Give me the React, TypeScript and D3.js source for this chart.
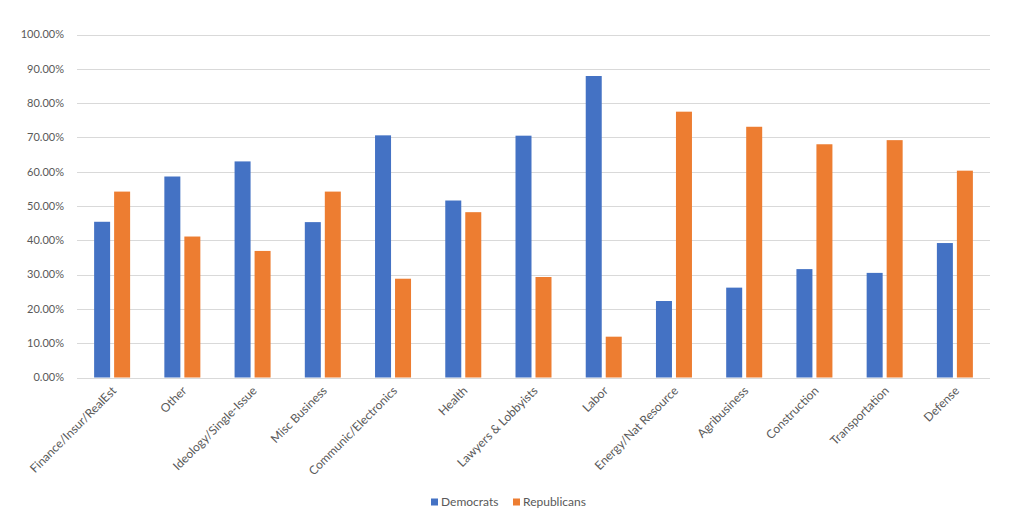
import { useRef, useEffect } from 'react'
import * as d3 from 'd3'

const categories = [
  'Finance/Insur/RealEst',
  'Other',
  'Ideology/Single-Issue',
  'Misc Business',
  'Communic/Electronics',
  'Health',
  'Lawyers & Lobbyists',
  'Labor',
  'Energy/Nat Resource',
  'Agribusiness',
  'Construction',
  'Transportation',
  'Defense',
]

const democrats = [45.4, 58.6, 63.0, 45.3, 70.6, 51.6, 70.5, 87.9, 22.3, 26.2, 31.6, 30.5, 39.2]
const republicans = [54.2, 41.1, 36.9, 54.2, 28.8, 48.2, 29.3, 11.9, 77.5, 73.1, 68.0, 69.2, 60.3]

const seriesNames = ['Democrats', 'Republicans']
const seriesColors = ['#4472C4', '#ED7D31']
const yTicks = [0, 10, 20, 30, 40, 50, 60, 70, 80, 90, 100]

const App: React.FC = () => {
  const chartRef = useRef<SVGSVGElement>(null)

  useEffect(() => {
    if (!chartRef.current) return

    const width = 1012
    const height = 524
    const left = 77
    const right = 990
    const top = 34.5
    const bottom = 377.5
    const font = 'Lato, "Open Sans", sans-serif'

    const svg = d3.select(chartRef.current)
    svg.selectAll('*').remove()
    svg.attr('width', width).attr('height', height)

    const x = d3.scaleBand<string>().domain(categories).range([left, right])
    const y = d3.scaleLinear().domain([0, 100]).range([bottom, top])
    const sub = d3.scaleBand<string>().domain(seriesNames).range([-18, 18]).paddingInner(0.2)

    // gridlines
    svg
      .append('g')
      .selectAll('line')
      .data(yTicks)
      .enter()
      .append('line')
      .attr('x1', left)
      .attr('x2', right)
      .attr('y1', (d) => Math.round(y(d)) + 0.5)
      .attr('y2', (d) => Math.round(y(d)) + 0.5)
      .attr('stroke', '#d9d9d9')
      .attr('stroke-width', 1)

    // y labels
    svg
      .append('g')
      .selectAll('text')
      .data(yTicks)
      .enter()
      .append('text')
      .attr('x', 64)
      .attr('y', (d) => y(d))
      .attr('dy', '0.35em')
      .attr('text-anchor', 'end')
      .attr('font-family', font)
      .attr('font-size', 11)
      .attr('fill', '#595959')
      .text((d) => d.toFixed(2) + '%')

    const series = [democrats, republicans]
    series.forEach((vals, si) => {
      svg
        .append('g')
        .selectAll('rect')
        .data(vals)
        .enter()
        .append('rect')
        .attr('x', (_, i) => x(categories[i])! + x.bandwidth() / 2 + sub(seriesNames[si])!)
        .attr('width', sub.bandwidth())
        .attr('y', (d) => y(d))
        .attr('height', (d) => y(0) - y(d))
        .attr('fill', seriesColors[si])
    })

    // x labels
    svg
      .append('g')
      .selectAll('text')
      .data(categories)
      .enter()
      .append('text')
      .attr('transform', (d) => `translate(${x(d)! + x.bandwidth() / 2 + 5},${bottom + 14}) rotate(-45)`)
      .attr('text-anchor', 'end')
      .attr('font-family', font)
      .attr('font-size', 12)
      .attr('fill', '#595959')
      .text((d) => d)

    // legend
    const legend = svg.append('g').attr('transform', 'translate(431,502)')
    const lx = [0, 82]
    seriesNames.forEach((name, i) => {
      legend
        .append('rect')
        .attr('x', lx[i])
        .attr('y', -3.5)
        .attr('width', 7)
        .attr('height', 7)
        .attr('fill', seriesColors[i])
      legend
        .append('text')
        .attr('x', lx[i] + 10)
        .attr('y', 0)
        .attr('dy', '0.35em')
        .attr('font-family', font)
        .attr('font-size', 12)
        .attr('fill', '#595959')
        .text(name)
    })
  }, [])

  return (
    <div style={{ position: 'absolute', left: 0, top: 0 }}>
      <svg ref={chartRef} style={{ display: 'block' }} />
    </div>
  )
}

export default App
